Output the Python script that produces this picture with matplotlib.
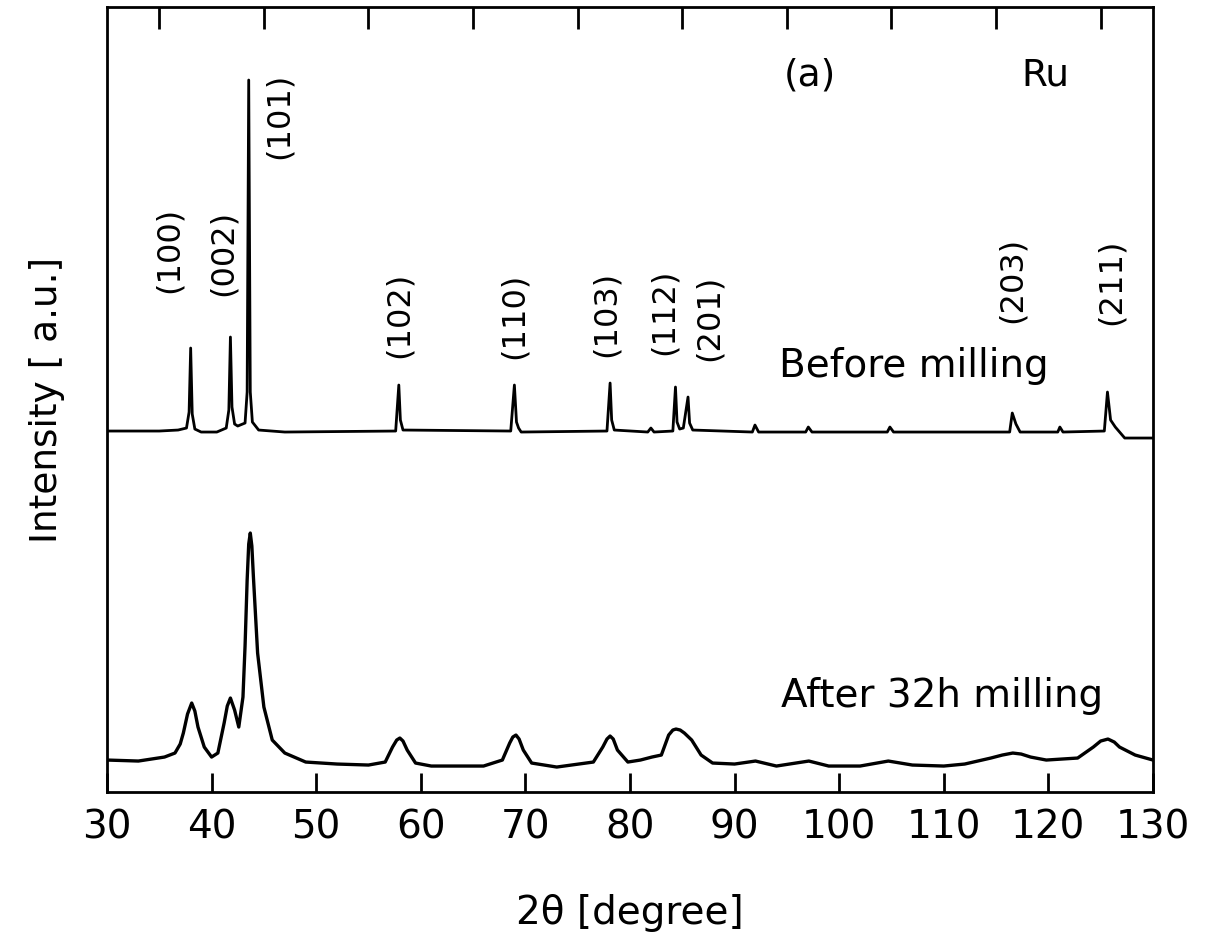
import numpy as np
import matplotlib
matplotlib.use("Agg")
import matplotlib.pyplot as plt
from matplotlib.ticker import FixedLocator, NullFormatter

plt.rcParams['font.family'] = ['DejaVu Sans']

# ---- data (2theta in degrees, intensity in a.u.) ----
# before milling, intensity above its own baseline
before_2theta = [30.0, 35.0, 36.8, 37.6, 37.85, 38.0, 38.15, 38.4, 39.0, 40.5, 41.4, 41.65, 41.8,
                 41.95, 42.2, 42.5, 43.2, 43.4, 43.55, 43.7, 43.9, 44.5, 47.0, 57.6, 57.9, 58.05,
                 58.3, 68.6, 68.95, 69.15, 69.35, 69.6, 77.8, 78.1, 78.25, 78.5, 81.7, 82.0, 82.3,
                 84.1, 84.35, 84.5, 84.75, 85.1, 85.55, 85.7, 86.0, 91.7, 91.95, 92.3, 96.8, 97.05,
                 97.4, 104.6, 104.85, 105.2, 116.3, 116.55, 116.9, 117.3, 120.9, 121.1, 121.4,
                 125.35, 125.65, 125.95, 126.4, 127.3, 130.0]
before_I = [1, 1, 2, 4, 20, 84, 18, 3, 0, 0, 4, 22, 95,
            25, 8, 6, 9, 40, 352, 40, 10, 2, 0, 1, 47, 12,
            2, 1, 47, 10, 4, 0, 1, 49, 12, 2, 0, 4, 0,
            1, 45, 10, 3, 4, 35, 9, 2, 0, 7, 0, 0, 5,
            0, 0, 5, 0, 0, 19, 8, 0, 0, 5, 0,
            1, 40, 12, 5, -6, -6]

# after 32h milling
after_2theta = [30.0, 33.0, 35.5, 36.5, 37.0, 37.3, 37.7, 38.1, 38.4, 38.7, 39.3, 40.0, 40.6,
                41.2, 41.5, 41.8, 42.2, 42.6, 43.0, 43.2, 43.4, 43.55, 43.7, 43.85, 44.0, 44.4,
                45.0, 45.8, 47.0, 49.0, 52.0, 55.0, 56.6, 57.3, 57.7, 58.0, 58.3, 58.7, 59.5,
                61.0, 66.0, 67.8, 68.5, 68.8, 69.1, 69.4, 69.8, 70.6, 73.0, 76.5, 77.4, 77.8,
                78.1, 78.4, 78.8, 79.8, 81.0, 82.1, 83.0, 83.7, 84.1, 84.4, 84.8, 85.2, 85.9,
                86.8, 87.9, 90.0, 92.0, 94.0, 97.1, 99.0, 102.0, 104.7, 107.0, 110.0, 112.0,
                114.5, 115.6, 116.6, 117.4, 118.3, 119.8, 122.8, 124.3, 125.0, 125.7, 126.3,
                126.8, 128.3, 130.0]
after_I = [6, 5, 9, 13, 22, 33, 52, 63, 55, 39, 19, 9, 13,
           43, 60, 68, 56, 39, 69, 120, 186, 222, 233, 220, 189, 113,
           59, 26, 13, 4, 2, 1, 4, 19, 26, 28, 25, 16, 3,
           0, 0, 6, 23, 29, 31, 27, 16, 3, -1, 4, 19, 27,
           30, 27, 16, 4, 6, 9, 11, 31, 36, 37, 36, 33, 26,
           11, 3, 2, 5, 0, 5, 0, 0, 5, 1, 0, 2,
           8, 11, 13, 12, 9, 6, 8, 19, 25, 27, 24,
           19, 11, 6]

before_offset = 360
after_offset = 26

# reflection labels
hkl = ['(100)', '(002)', '(101)', '(102)', '(110)', '(103)', '(112)', '(201)', '(203)', '(211)']
hkl_x = [35.95, 41.1, 46.5, 57.9, 68.9, 77.7, 83.3, 87.6, 116.5, 126.0]
hkl_y = [542, 539, 676, 477, 476, 478, 480, 474, 512, 510]

fig = plt.figure(figsize=(12.13, 9.36), dpi=100)
ax = fig.add_axes([0.0882, 0.1538, 0.8623, 0.8387])

ax.plot(before_2theta, np.array(before_I) + before_offset, color='black', lw=2.0)
ax.plot(after_2theta, np.array(after_I) + after_offset, color='black', lw=2.4)

for lab, xx, yy in zip(hkl, hkl_x, hkl_y):
    ax.text(xx, yy, lab, rotation=90, ha='center', va='center', fontsize=23)

ax.text(97.2, 717, '(a)', ha='center', va='center', fontsize=27)
ax.text(119.75, 717, 'Ru', ha='center', va='center', fontsize=27)
ax.text(94.27, 426, 'Before milling', ha='left', va='center', fontsize=28)
ax.text(94.46, 96, 'After 32h milling', ha='left', va='center', fontsize=28)

ax.set_xlim(30, 130)
ax.set_ylim(0, 785)
ax.set_xticks(np.arange(30, 131, 10))
ax.set_yticks([])
ax.xaxis.set_minor_locator(FixedLocator(np.arange(35, 130, 10)))
ax.xaxis.set_minor_formatter(NullFormatter())
ax.tick_params(axis='x', which='major', direction='in', length=14, width=2,
               top=False, bottom=True, labelsize=28, pad=12)
ax.tick_params(axis='x', which='minor', direction='in', length=16, width=2,
               top=True, bottom=False)
for sp in ax.spines.values():
    sp.set_linewidth(2)

ax.set_xlabel('2θ [degree]', fontsize=28, labelpad=34)
ax.set_ylabel('Intensity [ a.u.]', fontsize=27, labelpad=30)

plt.savefig('out.png', dpi=100)
